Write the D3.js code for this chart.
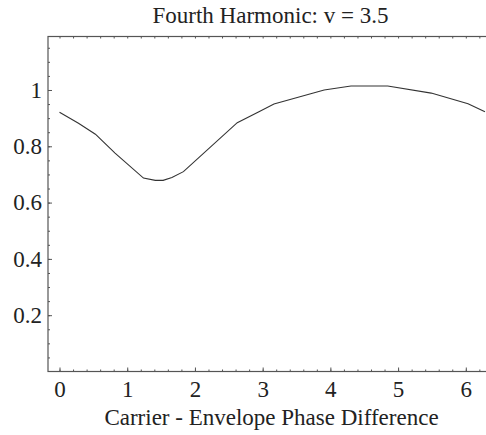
<!DOCTYPE html>
<html>
<head>
<meta charset="utf-8">
<script src="https://cdn.jsdelivr.net/npm/d3@7"></script>
<style>
  html, body { margin: 0; padding: 0; background: #fff; }
  svg { display: block; }
  text { font-family: "Liberation Serif", "DejaVu Serif", serif; fill: #222; }
</style>
</head>
<body>
<svg id="chart" width="486" height="435"></svg>
<script>
// ---- data ----
const phase = [0.0, 0.28, 0.53, 0.82, 1.24, 1.415, 1.53, 1.66, 1.83, 2.625, 2.945, 3.167, 3.908, 4.304, 4.847, 5.489, 6.033, 6.283];
const amplitude = [0.921, 0.882, 0.843, 0.776, 0.687, 0.679, 0.679, 0.689, 0.710, 0.884, 0.923, 0.950, 1.000, 1.014, 1.014, 0.989, 0.951, 0.923];
const xTickValues = [0, 1, 2, 3, 4, 5, 6];
const yTickValues = [0.2, 0.4, 0.6, 0.8, 1];
const yTickLabels = ["0.2", "0.4", "0.6", "0.8", "1"];
const titleText = "Fourth Harmonic: v = 3.5";
const xLabelText = "Carrier - Envelope Phase Difference";

const svg = d3.select("#chart");
const pLeft = 48, pRight = 487, pTop = 36.5, pBottom = 371.5;

const x = d3.scaleLinear().domain([-0.17, 6.313]).range([pLeft, pRight]);
const y = d3.scaleLinear().domain([0, 1.19]).range([pBottom, pTop]);

const frameColor = "#555";
const fs = 23;

// minor tick values
const xMinor = d3.range(0, 6.41, 0.2).map(v => +v.toFixed(2)).filter(v => x(v) > pLeft && x(v) < pRight);
const yMinor = d3.range(0.05, 1.19, 0.05).map(v => +v.toFixed(2));

// bottom axis (ticks inward = upward)
const gB = svg.append("g").attr("transform", `translate(0,${pBottom})`);
gB.call(d3.axisBottom(x).tickValues(xMinor).tickSize(-2).tickFormat(""))
  .call(g => g.select(".domain").remove())
  .selectAll("line").attr("stroke", frameColor);
const gBM = svg.append("g").attr("transform", `translate(0,${pBottom})`);
gBM.call(d3.axisBottom(x).tickValues(xTickValues).tickSize(-4).tickPadding(9).tickFormat(d3.format("d")))
  .call(g => g.select(".domain").remove());
gBM.selectAll("line").attr("stroke", frameColor);
gBM.selectAll("text").attr("font-size", fs).attr("font-family", "Liberation Serif").attr("fill", "#222");

// top axis (ticks inward = downward)
const gT = svg.append("g").attr("transform", `translate(0,${pTop})`);
gT.call(d3.axisTop(x).tickValues(xMinor).tickSize(-2).tickFormat(""))
  .call(g => g.select(".domain").remove())
  .selectAll("line").attr("stroke", frameColor);

// left axis (ticks inward = rightward)
const gL = svg.append("g").attr("transform", `translate(${pLeft},0)`);
gL.call(d3.axisLeft(y).tickValues(yMinor).tickSize(-2).tickFormat(""))
  .call(g => g.select(".domain").remove())
  .selectAll("line").attr("stroke", frameColor);
const gLM = svg.append("g").attr("transform", `translate(${pLeft},0)`);
gLM.call(d3.axisLeft(y).tickValues(yTickValues).tickSize(-4).tickPadding(6)
    .tickFormat((d, i) => yTickLabels[i]))
  .call(g => g.select(".domain").remove());
gLM.selectAll("line").attr("stroke", frameColor);
gLM.selectAll("text").attr("font-size", fs).attr("font-family", "Liberation Serif").attr("fill", "#222");

// frame
svg.append("rect")
  .attr("x", pLeft).attr("y", pTop)
  .attr("width", pRight - pLeft).attr("height", pBottom - pTop)
  .attr("fill", "none").attr("stroke", frameColor).attr("stroke-width", 1.2);

// curve
const line = d3.line().x((d, i) => x(phase[i])).y(d => y(d));
svg.append("path")
  .datum(amplitude)
  .attr("d", line)
  .attr("fill", "none")
  .attr("stroke", "#333")
  .attr("stroke-width", 1.1);

// title
svg.append("text")
  .attr("x", 270.5).attr("y", 22.7)
  .attr("text-anchor", "middle")
  .attr("font-size", fs)
  .text(titleText);

// x label
svg.append("text")
  .attr("x", 271.5).attr("y", 425)
  .attr("text-anchor", "middle")
  .attr("font-size", fs)
  .text(xLabelText);
</script>
</body>
</html>
